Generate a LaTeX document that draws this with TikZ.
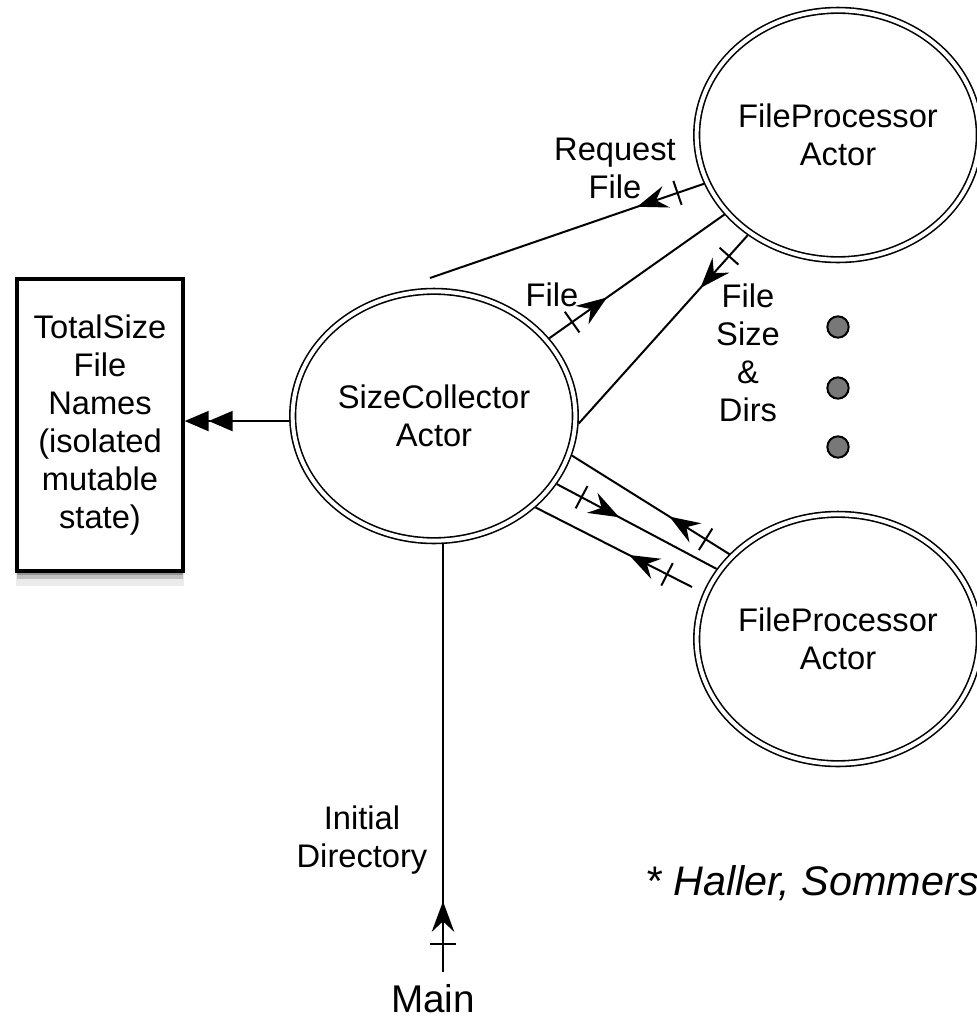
\documentclass[tikz,border=0pt]{standalone}
\usepackage{fontspec}
\setmainfont{Liberation Sans}
\usetikzlibrary{arrows.meta,shapes.geometric,decorations.markings,shadows}

\tikzset{
	actor/.style={ellipse, draw, double, line width=1.2pt, double distance=3pt,
		minimum width=212pt, minimum height=187pt, inner sep=0pt, outer sep=2.7pt, align=center},
	msg/.style={line width=1.5pt, postaction={decorate}, decoration={markings,
		mark=at position 21pt with {\draw[line width=1.5pt] (0pt,-9.5pt) -- (0pt,9.5pt);},
		mark=at position 53pt with {\fill (0pt,0pt) -- (-23pt,8.5pt) -- (-15pt,0pt) -- (-23pt,-8.5pt) -- cycle;}}},
	store/.style={draw, line width=3pt, fill=white, minimum width=124pt, minimum height=219pt,
		align=center,
		drop shadow={shadow xshift=0pt, shadow yshift=-3pt, fill=black, opacity=0.25},
		drop shadow={shadow xshift=0pt, shadow yshift=-6pt, fill=black, opacity=0.18},
		drop shadow={shadow xshift=0pt, shadow yshift=-9pt, shadow scale=1.02, fill=black, opacity=0.08}},
	gdot/.style={circle, draw, line width=1.5pt, fill=black!53, minimum size=16pt, inner sep=0pt},
	lbl/.style={align=center},
}

\begin{document}
\begin{tikzpicture}[x=0.75pt, y=-0.75pt, font=\fontsize{24.5pt}{28.5pt}\selectfont]
		\useasboundingbox (0,0) rectangle (976,1021);

		\node[store] (state) at (100,425) {TotalSize\\File\\Names\\(isolated\\mutable\\state)};
		\node[actor] (sc) at (434,416) {SizeCollector\\Actor};
		\node[actor] (fp1) at (838,135) {FileProcessor\\Actor};
		\node[actor] (fp2) at (838,639) {FileProcessor\\Actor};
		\foreach \i/\y in {1/327, 2/388, 3/447}
			\node[gdot] (dot\i) at (838,\y) {};

		\node[anchor=base, inner sep=0pt, font=\fontsize{29pt}{34pt}\selectfont] (main) at (433,1012) {Main};
		\coordinate (mainout) at (443,972);
		\coordinate (reqend) at (430,278);
		\coordinate (retstart) at (692,587);

		\draw[msg] (fp1.200) -- (reqend);
		\draw[msg] (sc.34) -- (fp1.215);
		\draw[msg] (fp1.228) -- (sc.-3);
		\draw[msg] (fp2.142) -- (sc.-16);
		\draw[msg] (sc.-29) -- (fp2.150);
		\draw[msg] (retstart) -- (sc.-42);
		\draw[msg] (mainout) -- (mainout |- sc.south);
		\draw[line width=1.5pt, -{Triangle[length=18pt,width=15pt,sep=0pt]Triangle[length=18pt,width=15pt]}]
			(sc.182) -- (sc.182 -| state.east);

		\node[lbl] (lreq) at (615,168) {Request\\File};
		\node[lbl] (lfile) at (552,295) {File};
		\node[lbl] (lsize) at (748,353) {File\\Size\\\&\\Dirs};
		\node[lbl] (linit) at (362,840) {Initial\\Directory};
		\node[anchor=base west, font=\fontsize{31pt}{35pt}\selectfont\itshape] (cite) at (641,895) {* Haller, Sommers};
	\end{tikzpicture}
\end{document}
